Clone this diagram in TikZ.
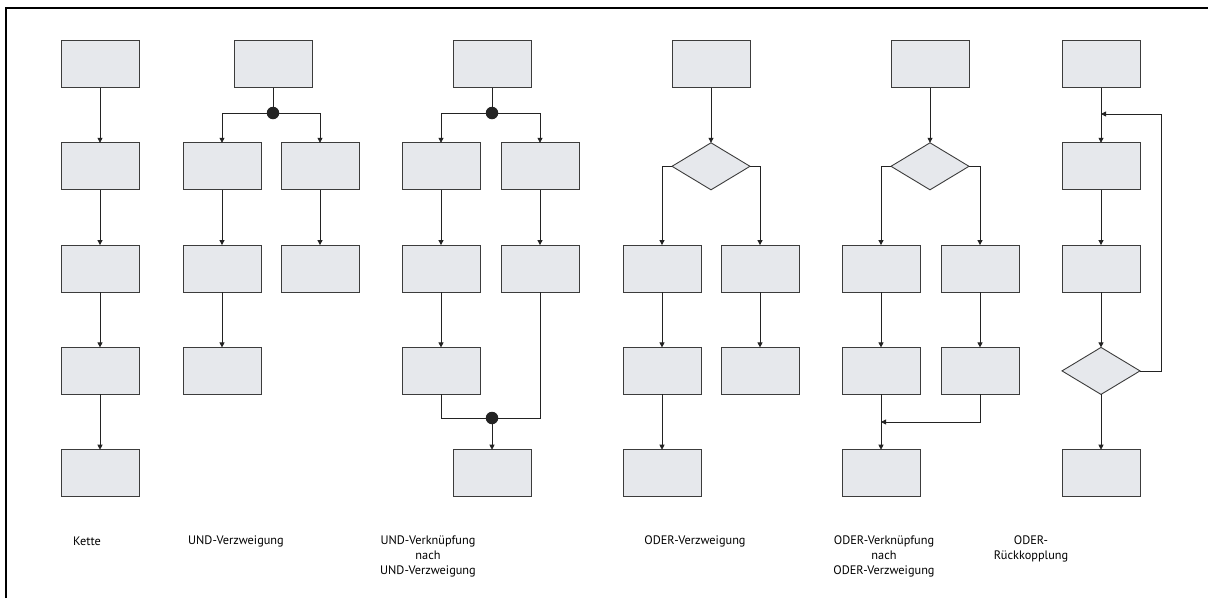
\documentclass[tikz,border=0pt]{standalone}
\usepackage{fontspec}
\setmainfont{PT Sans}
\usetikzlibrary{arrows.meta,shapes.geometric}
\definecolor{boxfill}{RGB}{230,232,236}
\definecolor{edge}{RGB}{60,60,60}
\definecolor{wire}{RGB}{35,35,35}
\begin{document}
\begin{tikzpicture}[x=1pt,y=-1pt,
  blk/.style={draw=edge, fill=boxfill, line width=0.9pt, minimum width=78pt,
    minimum height=47pt, inner sep=0pt, outer sep=0pt},
  dia/.style={diamond, draw=edge, fill=boxfill, line width=0.9pt, minimum width=78pt,
    minimum height=47pt, aspect=1.66, inner sep=0pt, outer sep=0pt},
  dot/.style={circle, fill=wire, minimum size=12.5pt, inner sep=0pt, outer sep=0pt},
  conn/.style={draw=wire, line width=0.8pt, -{Triangle[width=5pt,length=5pt]}},
  line/.style={draw=wire, line width=0.8pt},
  lbl/.style={align=center, inner sep=0pt, font=\fontsize{12.3}{15}\selectfont, text=black}]
\useasboundingbox (0,0) rectangle (1208,598);
% frame
\draw[line width=2pt] (6,598) -- (6,7.5) -- (1208,7.5);

% Kette
\node[blk] (k1) at (100,64) {};
\node[blk] (k2) at (100,166.3) {};
\node[blk] (k3) at (100,268.6) {};
\node[blk] (k4) at (100,370.9) {};
\node[blk] (k5) at (100,473.2) {};
\draw[conn] (k1) -- (k2);
\draw[conn] (k2) -- (k3);
\draw[conn] (k3) -- (k4);
\draw[conn] (k4) -- (k5);

% UND-Verzweigung
\node[blk] (u0) at (273,64) {};
\node[dot] (ud) at (273,113) {};
\node[blk] (u1l) at (222,166.3) {};
\node[blk] (u1r) at (320,166.3) {};
\node[blk] (u2l) at (222,268.6) {};
\node[blk] (u2r) at (320,268.6) {};
\node[blk] (u3l) at (222,370.9) {};
\draw[line] (u0) -- (ud);
\draw[conn] (ud) -| (u1l.north);
\draw[conn] (ud) -| (u1r.north);
\draw[conn] (u1l) -- (u2l);
\draw[conn] (u1r) -- (u2r);
\draw[conn] (u2l) -- (u3l);

% UND-Verknuepfung nach UND-Verzweigung
\node[blk] (v0) at (492,64) {};
\node[dot] (vd) at (492,113) {};
\node[blk] (v1l) at (441,166.3) {};
\node[blk] (v1r) at (540,166.3) {};
\node[blk] (v2l) at (441,268.6) {};
\node[blk] (v2r) at (540,268.6) {};
\node[blk] (v3l) at (441,370.9) {};
\node[dot] (vm) at (492,418) {};
\node[blk] (v4) at (492,473.2) {};
\draw[line] (v0) -- (vd);
\draw[conn] (vd) -| (v1l.north);
\draw[conn] (vd) -| (v1r.north);
\draw[conn] (v1l) -- (v2l);
\draw[conn] (v1r) -- (v2r);
\draw[conn] (v2l) -- (v3l);
\draw[line] (v3l.south) |- (vm);
\draw[line] (v2r.south) |- (vm);
\draw[conn] (vm) -- (v4);

% ODER-Verzweigung
\node[blk] (o0) at (711,64) {};
\node[dia] (od) at (711,166.3) {};
\node[blk] (o1l) at (662,268.6) {};
\node[blk] (o1r) at (760,268.6) {};
\node[blk] (o2l) at (662,370.9) {};
\node[blk] (o2r) at (760,370.9) {};
\node[blk] (o3l) at (662,473.2) {};
\draw[conn] (o0) -- (od);
\draw[conn] (od.west) -| (o1l.north);
\draw[conn] (od.east) -| (o1r.north);
\draw[conn] (o1l) -- (o2l);
\draw[conn] (o1r) -- (o2r);
\draw[conn] (o2l) -- (o3l);

% ODER-Verknuepfung nach ODER-Verzweigung
\node[blk] (p0) at (930,64) {};
\node[dia] (pd) at (930,166.3) {};
\node[blk] (p1l) at (881,268.6) {};
\node[blk] (p1r) at (980,268.6) {};
\node[blk] (p2l) at (881,370.9) {};
\node[blk] (p2r) at (980,370.9) {};
\node[blk] (p3l) at (881,473.2) {};
\coordinate (pm) at (881,422);
\draw[conn] (p0) -- (pd);
\draw[conn] (pd.west) -| (p1l.north);
\draw[conn] (pd.east) -| (p1r.north);
\draw[conn] (p1l) -- (p2l);
\draw[conn] (p1r) -- (p2r);
\draw[conn] (p2l) -- (p3l);
\draw[conn] (p2r.south) |- (pm);

% ODER-Rueckkopplung
\node[blk] (r0) at (1101,64) {};
\node[blk] (r1) at (1101,166.3) {};
\node[blk] (r2) at (1101,268.6) {};
\node[dia] (rd) at (1101,370.9) {};
\node[blk] (r3) at (1101,473.2) {};
\coordinate (rm) at (1101,114);
\coordinate (rc) at (1161,370.9);
\draw[conn] (r0) -- (r1);
\draw[conn] (r1) -- (r2);
\draw[conn] (r2) -- (rd);
\draw[conn] (rd) -- (r3);
\draw[conn] (rd.east) -- (rc) |- (rm);

% captions
\node[lbl] (t1) at (87,541.5) {Kette};
\node[lbl] (t2) at (236,541.5) {UND-Verzweigung};
\node[lbl] (t3) at (428,556.5) {UND-Verknüpfung\\nach\\UND-Verzweigung};
\node[lbl] (t4) at (695,541.5) {ODER-Verzweigung};
\node[lbl] (t5) at (884,556.5) {ODER-Verknüpfung\\nach\\ODER-Verzweigung};
\node[lbl] (t6) at (1031,549) {ODER-\\Rückkopplung};
\end{tikzpicture}
\end{document}
